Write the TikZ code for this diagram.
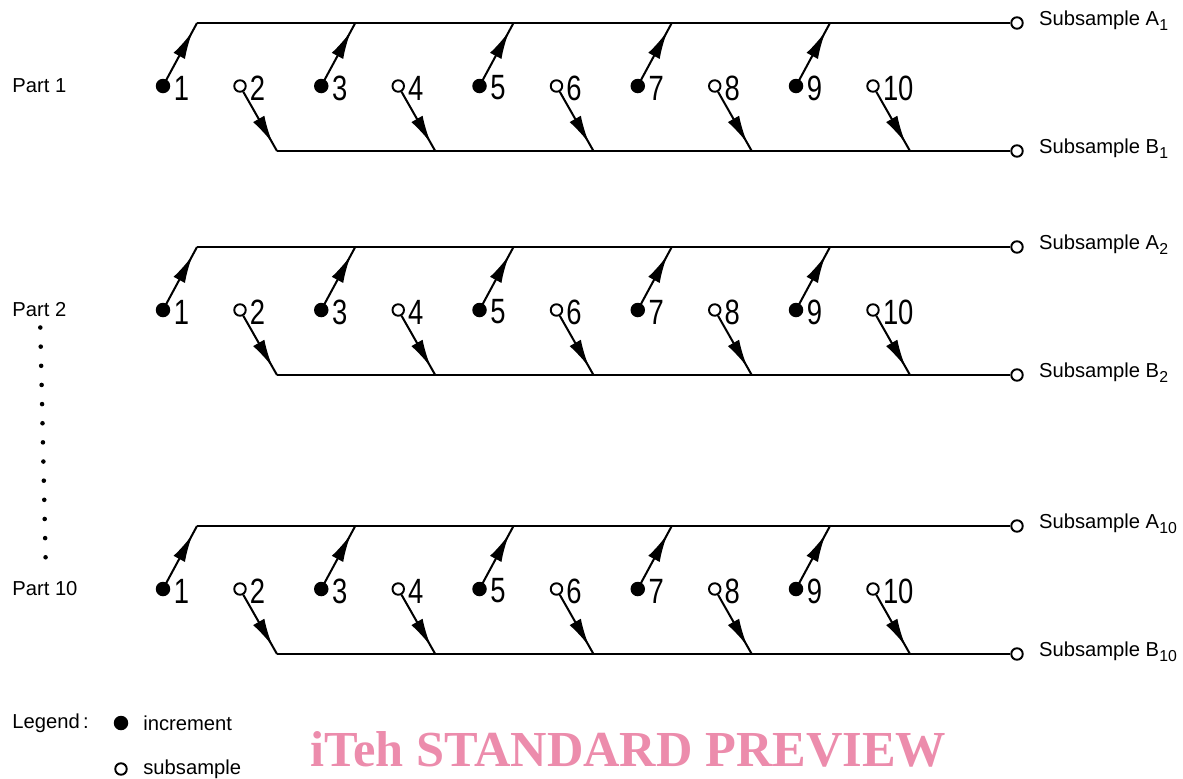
\documentclass[tikz,border=0pt]{standalone}
\usepackage{fontspec}
\setmainfont{Liberation Sans}
\newfontfamily\wmfont{Liberation Serif}
\usetikzlibrary{positioning,arrows.meta,decorations.markings,calc}
\definecolor{wmpink}{RGB}{236,140,172}
\newcommand\lowsub[1]{\raisebox{-0.45ex}{\fontsize{9}{9}\selectfont #1}}

\tikzset{
  incr/.style={circle,fill=black,inner sep=0pt,minimum size=0.29cm},
  subs/.style={circle,draw=black,fill=white,line width=1.1pt,inner sep=0pt,minimum size=0.23cm},
  num/.style={font=\fontsize{20}{20}\selectfont,xscale=0.78,inner sep=0pt,anchor=west},
  lbl/.style={font=\fontsize{11.5}{13}\selectfont,inner sep=0pt},
  bus/.style={line width=1.15pt},
  feed/.style={line width=1.15pt,postaction={decorate},
    decoration={markings,mark=at position 0.87 with {\arrow{Latex[length=0.56cm,width=0.26cm]}}}}
}

\begin{document}
\begin{tikzpicture}[x=0.02cm,y=-0.02cm]
\useasboundingbox (0,0) rectangle (1183,778);

\foreach \p/\y/\t in {1/86/1,2/310/2,3/589/10} {
  \node[lbl,anchor=west] (part\p) at (12,\y) {Part \t};
  % increments, going up to subsample A
  \foreach \k in {1,3,5,7,9} {
    \node[incr] (d\p-\k) at ({163+(\k-1)/2*158.25},\y) {};
    \node[num] at ($(d\p-\k.east)+(3,2)$) {\k};
    \coordinate (t\p-\k) at ($(d\p-\k)+(34,-63)$);
    \draw[feed] (d\p-\k.center) -- (t\p-\k);
  }
  % subsamples, going down to subsample B
  \foreach \k in {2,4,6,8,10} {
    \node[subs] (d\p-\k) at ({240+(\k-2)/2*158.25},\y) {};
    \node[num] at ($(d\p-\k.east)+(3,2)$) {\k};
    \coordinate (b\p-\k) at ($(d\p-\k)+(37,65)$);
    \draw[feed] (d\p-\k) -- (b\p-\k);
  }
  \node[subs] (oa\p) at (1017,\y-63) {};
  \node[subs] (ob\p) at (1017,\y+65) {};
  \node[lbl,anchor=west] (la\p) at ($(oa\p.east)+(15,-2)$) {Subsample A\lowsub{\t}};
  \node[lbl,anchor=west] (lb\p) at ($(ob\p.east)+(15,-2)$) {Subsample B\lowsub{\t}};
  \draw[bus] (t\p-1) -- (oa\p);
  \draw[bus] (b\p-2) -- (ob\p);
}

% parts 3 to 9 left out
\draw[line width=2.6pt,line cap=round,dash pattern=on 0pt off 10.9pt]
  ($(part2.south)+(1,10)$) -- ($(part3.north)+(1,-9)$);

% legend
\node[lbl,anchor=west] (legend) at (12,723) {Legend\,:};
\node[incr] (lgi) at (121,723) {};
\node[lbl,anchor=west] (lgit) at (143,723) {increment};
\node[subs] (lgs) at (121,769) {};
\node[lbl,anchor=west] (lgst) at (143,769) {subsample};

\node[anchor=base west,inner sep=0pt,text=wmpink,
  font=\wmfont\bfseries\fontsize{28.7}{30}\selectfont] (wm) at (310,766) {iTeh STANDARD PREVIEW};
\end{tikzpicture}
\end{document}
